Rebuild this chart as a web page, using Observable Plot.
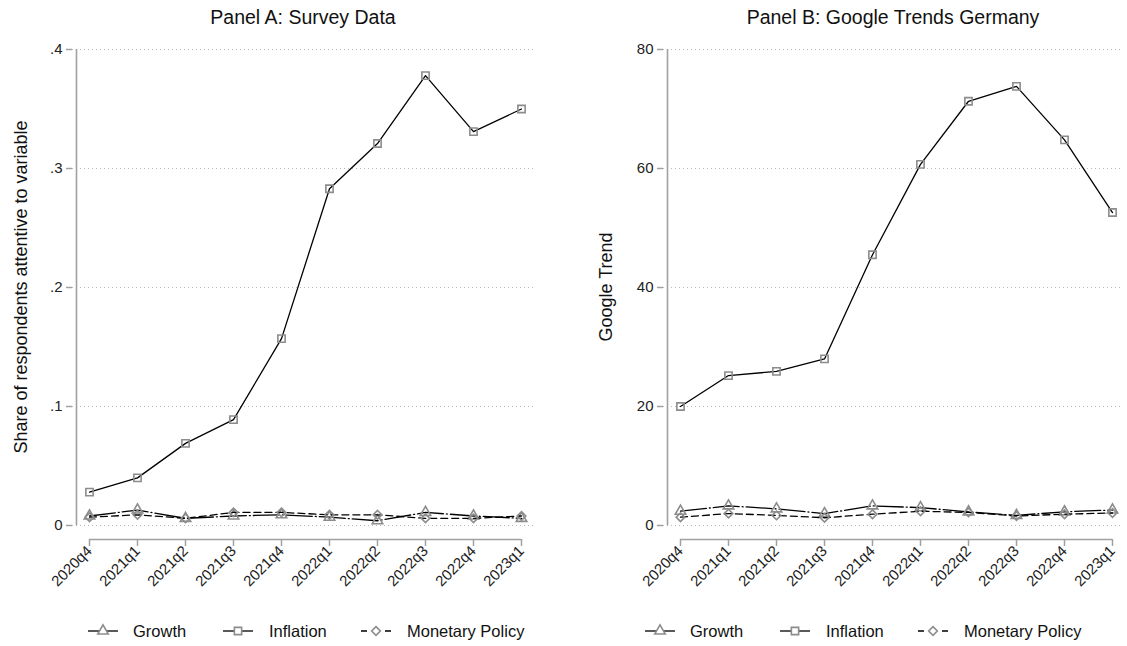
<!DOCTYPE html>
<html>
<head>
<meta charset="utf-8">
<script src="https://cdn.jsdelivr.net/npm/d3@7"></script>
<script src="https://cdn.jsdelivr.net/npm/@observablehq/plot@0.6"></script>
<style>
  body { margin: 0; background: #fff; font-family: "Liberation Sans", Arial, sans-serif; }
  #wrap { position: relative; width: 1127px; height: 646px; overflow: hidden; background: #fff; }
  .panel { position: absolute; top: 30px; }
  .title { position: absolute; top: 6px; font-size: 19.5px; color: #111; white-space: nowrap; transform: translateX(-50%); }
  .ytitle { position: absolute; font-size: 18px; color: #111; white-space: nowrap; transform: translate(-50%, -50%) rotate(-90deg); }
  .legend { position: absolute; top: 616px; }
</style>
</head>
<body>
<div id="wrap"></div>
<script>
// Quarters on the x axis
const quarters = ["2020q4", "2021q1", "2021q2", "2021q3", "2021q4", "2022q1", "2022q2", "2022q3", "2022q4", "2023q1"];

// Panel A: share of survey respondents attentive to each variable
const surveyGrowth    = [0.008, 0.013, 0.006, 0.008, 0.009, 0.007, 0.004, 0.011, 0.008, 0.006];
const surveyInflation = [0.028, 0.040, 0.069, 0.089, 0.157, 0.283, 0.321, 0.378, 0.331, 0.350];
const surveyMonetary  = [0.007, 0.009, 0.006, 0.011, 0.011, 0.009, 0.009, 0.006, 0.006, 0.008];

// Panel B: Google Trends index, Germany
const trendsGrowth    = [2.4, 3.3, 2.8, 2.0, 3.3, 3.0, 2.3, 1.7, 2.3, 2.6];
const trendsInflation = [20.0, 25.2, 25.9, 28.0, 45.5, 60.7, 71.3, 73.8, 64.8, 52.6];
const trendsMonetary  = [1.4, 2.0, 1.7, 1.3, 1.9, 2.4, 2.2, 1.6, 1.9, 2.1];

// Axis ticks
const surveyTicks = [0, 0.1, 0.2, 0.3, 0.4];
const surveyTickLabels = ["0", ".1", ".2", ".3", ".4"];
const trendsTicks = [0, 20, 40, 60, 80];
const trendsTickLabels = ["0", "20", "40", "60", "80"];

const seriesNames = ["Growth", "Inflation", "Monetary Policy"];

// Line and marker styles per series
const seriesStyle = {
  "Growth":          {symbol: "triangle", r: 3.9, dash: "26,3,1,3"},
  "Inflation":       {symbol: "square",   r: 4.1, dash: null},
  "Monetary Policy": {symbol: "diamond2", r: 3.9, dash: "7,4"}
};
const axisGray = "#a0a0a0";
const markerGray = "#8c8c8c";
const font = "'Liberation Sans', Arial, sans-serif";

function makePanel({width, marginLeft, marginRight, insetLeft, insetRight, yMax, yTicks, yLabels, values}) {
  const xAxisGap = 14;
  const marks = [
    Plot.gridY(yTicks, {stroke: "#b8b8b8", strokeOpacity: 1, strokeDasharray: "1,3"}),
    // y axis line from 0 to the top tick
    Plot.ruleX([{q: quarters[0], lo: 0, hi: yMax}], {x: "q", y1: "lo", y2: "hi", dx: -insetLeft, stroke: axisGray, strokeWidth: 1.6}),
    // x axis line spanning the first to last quarter, set below the zero line
    Plot.ruleY([{v: 0, a: quarters[0], b: quarters[quarters.length - 1]}], {y: "v", x1: "a", x2: "b", dy: xAxisGap, stroke: axisGray, strokeWidth: 1.6}),
    Plot.axisY(yTicks, {
      tickFormat: (d) => yLabels[yTicks.indexOf(d)],
      tickSize: 6, tickPadding: 4, stroke: axisGray, strokeWidth: 1.5, fill: "#222", fontSize: 15, label: null
    }),
    Plot.axisX({tickRotate: -45, tickSize: 7, tickPadding: 2, stroke: axisGray, strokeWidth: 1.5, fill: "#222", fontSize: 15, label: null})
  ];
  seriesNames.forEach((name, k) => {
    const rows = quarters.map((q, i) => ({q, v: values[k][i]}));
    const st = seriesStyle[name];
    marks.push(Plot.line(rows, {x: "q", y: "v", stroke: "#000", strokeWidth: 1.3, strokeDasharray: st.dash}));
    marks.push(Plot.dot(rows, {x: "q", y: "v", symbol: st.symbol, r: st.r, stroke: markerGray, strokeWidth: 1.6, fill: "none"}));
  });
  return Plot.plot({
    width, height: 575,
    marginTop: 19, marginBottom: 66, marginLeft, marginRight,
    x: {type: "point", domain: quarters, padding: 0, insetLeft, insetRight},
    y: {domain: [0, yMax], insetBottom: xAxisGap},
    style: {fontFamily: font, fontSize: "15px", background: "transparent", overflow: "visible", color: "#222"},
    marks
  });
}

function makeLegend() {
  const svg = d3.create("svg").attr("width", 480).attr("height", 30).style("overflow", "visible");
  const centers = [103, 238, 376];
  const textX = [133, 269, 407];
  seriesNames.forEach((name, k) => {
    const st = seriesStyle[name];
    const g = svg.append("g");
    g.append("line").attr("x1", centers[k] - 15).attr("x2", centers[k] + 15).attr("y1", 15).attr("y2", 15)
      .attr("stroke", "#000").attr("stroke-width", 1.3)
      .attr("stroke-dasharray", name === "Monetary Policy" ? "6,18,6" : null);
    const sym = {triangle: d3.symbolTriangle, square: d3.symbolSquare, diamond2: d3.symbolDiamond2}[st.symbol];
    g.append("path").attr("transform", `translate(${centers[k]},15)`)
      .attr("d", d3.symbol(sym, Math.PI * st.r * st.r)())
      .attr("fill", "#fff").attr("stroke", markerGray).attr("stroke-width", 1.6);
    g.append("text").attr("x", textX[k]).attr("y", 15).attr("dy", "0.35em")
      .attr("font-family", font).attr("font-size", 16.5).attr("fill", "#111").text(name);
  });
  return svg.node();
}

const wrap = document.getElementById("wrap");

function place(node, cls, left, extra) {
  const div = document.createElement("div");
  div.className = cls;
  div.style.left = left + "px";
  if (extra) Object.assign(div.style, extra);
  if (typeof node === "string") div.textContent = node; else div.appendChild(node);
  wrap.appendChild(div);
  return div;
}

// Panel A
place(makePanel({
  width: 560, marginLeft: 72, marginRight: 25, insetLeft: 13, insetRight: 11,
  yMax: 0.4, yTicks: surveyTicks, yLabels: surveyTickLabels,
  values: [surveyGrowth, surveyInflation, surveyMonetary]
}), "panel", 0, {width: "560px"});
place("Panel A: Survey Data", "title", 303);
place("Share of respondents attentive to variable", "ytitle", 21, {top: "287px"});
place(makeLegend(), "legend", 0);

// Panel B
place(makePanel({
  width: 567, marginLeft: 103, marginRight: 4, insetLeft: 13, insetRight: 8,
  yMax: 80, yTicks: trendsTicks, yLabels: trendsTickLabels,
  values: [trendsGrowth, trendsInflation, trendsMonetary]
}), "panel", 560, {width: "567px"});
place("Panel B: Google Trends Germany", "title", 893);
place("Google Trend", "ytitle", 606, {top: "287px"});
place(makeLegend(), "legend", 557);
</script>
</body>
</html>
